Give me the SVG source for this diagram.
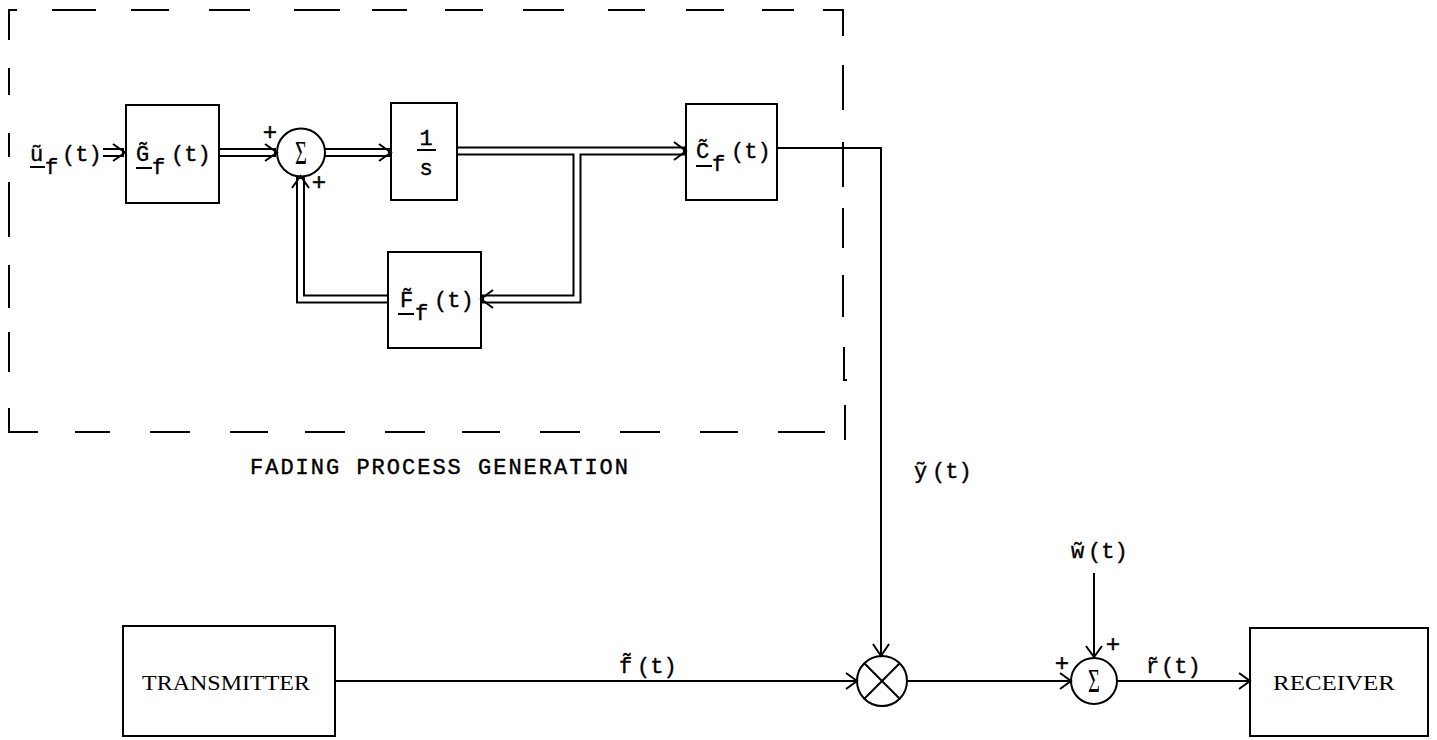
<svg xmlns="http://www.w3.org/2000/svg" width="1437" height="740" viewBox="0 0 1437 740">
<style>
.bx{fill:none;stroke:#000;stroke-width:2}
.ln{fill:none;stroke:#000;stroke-width:2}
.dk{fill:none;stroke:#000;stroke-width:9;stroke-linejoin:miter}
.dw{fill:none;stroke:#fff;stroke-width:5;stroke-linejoin:miter}
.ah{fill:none;stroke:#000;stroke-width:2;stroke-linejoin:miter}
.m{font-family:"Liberation Mono","DejaVu Sans Mono",monospace;font-size:22px;fill:#000;stroke:#000;stroke-width:0.4}
.pl{font-family:"Liberation Mono","DejaVu Sans Mono",monospace;font-size:24px;fill:#000;text-anchor:middle;stroke:#000;stroke-width:0.4}
.s{font-family:"Liberation Serif",serif;font-size:22px;fill:#000}
.sig{font-family:"Liberation Serif",serif;font-size:34px;fill:#000;text-anchor:middle}
</style>
<rect width="1437" height="740" fill="#fff"/>

<g id="fading-boundary" class="ln">
<path d="M17,10 H9 V40 M52,10 H96 M131,10 H169 M209,10 H250 M294,10 H340 M372,10 H407 M445,10 H483 M523,10 H564 M608,10 H645 M686,10 H724 M762,10 H794 M823,10 H843 V36"/>
<path d="M9,68 V95 M9,133 V157 M9,182 V237 M9,265 V308 M9,332 V372 M9,408 V432 H38"/>
<path d="M843,65 V110 M843,142 V187 M843,208 V248 M843,275 V317 M844,347 V380 H847 M845,405 V440"/>
<path d="M75,432 H110 M150,432 H190 M230,432 H268 M305,432 H345 M385,432 H425 M462,432 H500 M540,432 H580 M620,432 H660 M700,432 H738 M778,432 H825"/>
</g>

<g id="connectors">
<g id="double-black">
<path class="dk" d="M103,152.5 H124"/>
<path class="dk" d="M219,152.5 H276"/>
<path class="dk" d="M325,152.5 H390"/>
<path class="dk" d="M457,151 H685"/>
<path class="dk" d="M577,151 V299 H482"/>
<path class="dk" d="M388,299 H300.5 V177"/>
</g>
<g id="double-white">
<path class="dw" d="M102,152.5 H122"/>
<path class="dw" d="M218,152.5 H274"/>
<path class="dw" d="M324,152.5 H388"/>
<path class="dw" d="M456,151 H683"/>
<path class="dw" d="M577,151 V299 H484"/>
<path class="dw" d="M389,299 H300.5 V179"/>
</g>
<path class="ln" d="M777,148 H881 V655"/>
<path class="ln" d="M335,681 H857"/>
<path class="ln" d="M907,681 H1071"/>
<path class="ln" d="M1094,573 V657"/>
<path class="ln" d="M1117,681 H1250"/>
<g id="arrowheads" class="ah">
<path d="M113,144 L125,152.5 L113,161"/>
<path d="M265,144 L277,152.5 L265,161"/>
<path d="M379,144 L391,152.5 L379,161"/>
<path d="M674,142 L686,151 L674,160"/>
<path d="M493,290 L481,299 L493,308"/>
<path d="M292,188 L300.5,176 L309,188"/>
<path d="M873,644 L881,656 L889,644"/>
<path d="M846,673 L857,681 L846,689"/>
<path d="M1060,673 L1071,681 L1060,689"/>
<path d="M1086,646 L1094,657 L1102,646"/>
<path d="M1239,673 L1250,681 L1239,689"/>
</g>
</g>

<g id="input-uf">
<text class="m" x="30" y="161">&#x169;</text>
<line class="ln" x1="30" y1="167" x2="45" y2="167"/>
<text class="m" x="45" y="174">f</text>
<text class="m" x="62" y="161">(t)</text>
</g>

<g id="block-G">
<rect class="bx" x="126" y="105" width="93" height="98"/>
<text class="m" x="136" y="161">G&#x303;</text>
<line class="ln" x1="136" y1="168" x2="152" y2="168"/>
<text class="m" x="152" y="174">f</text>
<text class="m" x="171" y="161">(t)</text>
</g>

<g id="sum1">
<circle class="bx" cx="301" cy="152.5" r="24"/>
<text class="sig" transform="translate(301,164) scale(0.6,1)" x="0" y="0">Σ</text>
<text class="pl" x="270" y="140">+</text>
<text class="pl" x="319" y="190">+</text>
</g>

<g id="integrator">
<rect class="bx" x="391" y="103" width="66" height="97"/>
<text class="m" x="426" y="145" text-anchor="middle">1</text>
<line class="ln" x1="417" y1="150" x2="436" y2="150"/>
<text class="m" x="426" y="175" text-anchor="middle">s</text>
</g>

<g id="block-C">
<rect class="bx" x="686" y="104" width="91" height="96"/>
<text class="m" x="696" y="158">C&#x303;</text>
<line class="ln" x1="696" y1="166" x2="712" y2="166"/>
<text class="m" x="712" y="171">f</text>
<text class="m" x="731" y="158">(t)</text>
</g>

<g id="block-F">
<rect class="bx" x="388" y="252" width="93" height="96"/>
<text class="m" x="400" y="307">F&#x303;</text>
<line class="ln" x1="398" y1="314" x2="414" y2="314"/>
<text class="m" x="415" y="320">f</text>
<text class="m" x="434" y="307">(t)</text>
</g>

<g id="label-fading">
<text class="m" x="250" y="474" font-size="25" textLength="378" lengthAdjust="spacing">FADING PROCESS GENERATION</text>
</g>

<g id="label-y">
<text class="m" x="914" y="478">&#x1EF9;</text>
<text class="m" x="932" y="478">(t)</text>
</g>

<g id="transmitter">
<rect class="bx" x="123" y="626" width="212" height="110"/>
<text class="s" x="226" y="690" text-anchor="middle" textLength="168" lengthAdjust="spacingAndGlyphs">TRANSMITTER</text>
</g>

<g id="label-f">
<text class="m" x="619" y="673">f&#x303;</text>
<text class="m" x="637" y="673">(t)</text>
</g>

<g id="multiplier">
<circle class="bx" cx="882" cy="681" r="25"/>
<path class="ln" d="M864.3,663.3 L899.7,698.7 M899.7,663.3 L864.3,698.7"/>
</g>

<g id="label-w">
<text class="m" x="1071" y="558">w&#x303;</text>
<text class="m" x="1088" y="558">(t)</text>
</g>

<g id="sum2">
<circle class="bx" cx="1094" cy="681" r="23"/>
<text class="sig" transform="translate(1094,692) scale(0.6,1)" x="0" y="0">Σ</text>
<text class="pl" x="1062" y="671">+</text>
<text class="pl" x="1113" y="652">+</text>
</g>

<g id="label-r">
<text class="m" x="1146" y="673">r&#x303;</text>
<text class="m" x="1161" y="673">(t)</text>
</g>

<g id="receiver">
<rect class="bx" x="1250" y="628" width="178" height="108"/>
<text class="s" x="1334" y="690" text-anchor="middle" textLength="122" lengthAdjust="spacingAndGlyphs">RECEIVER</text>
</g>
</svg>
